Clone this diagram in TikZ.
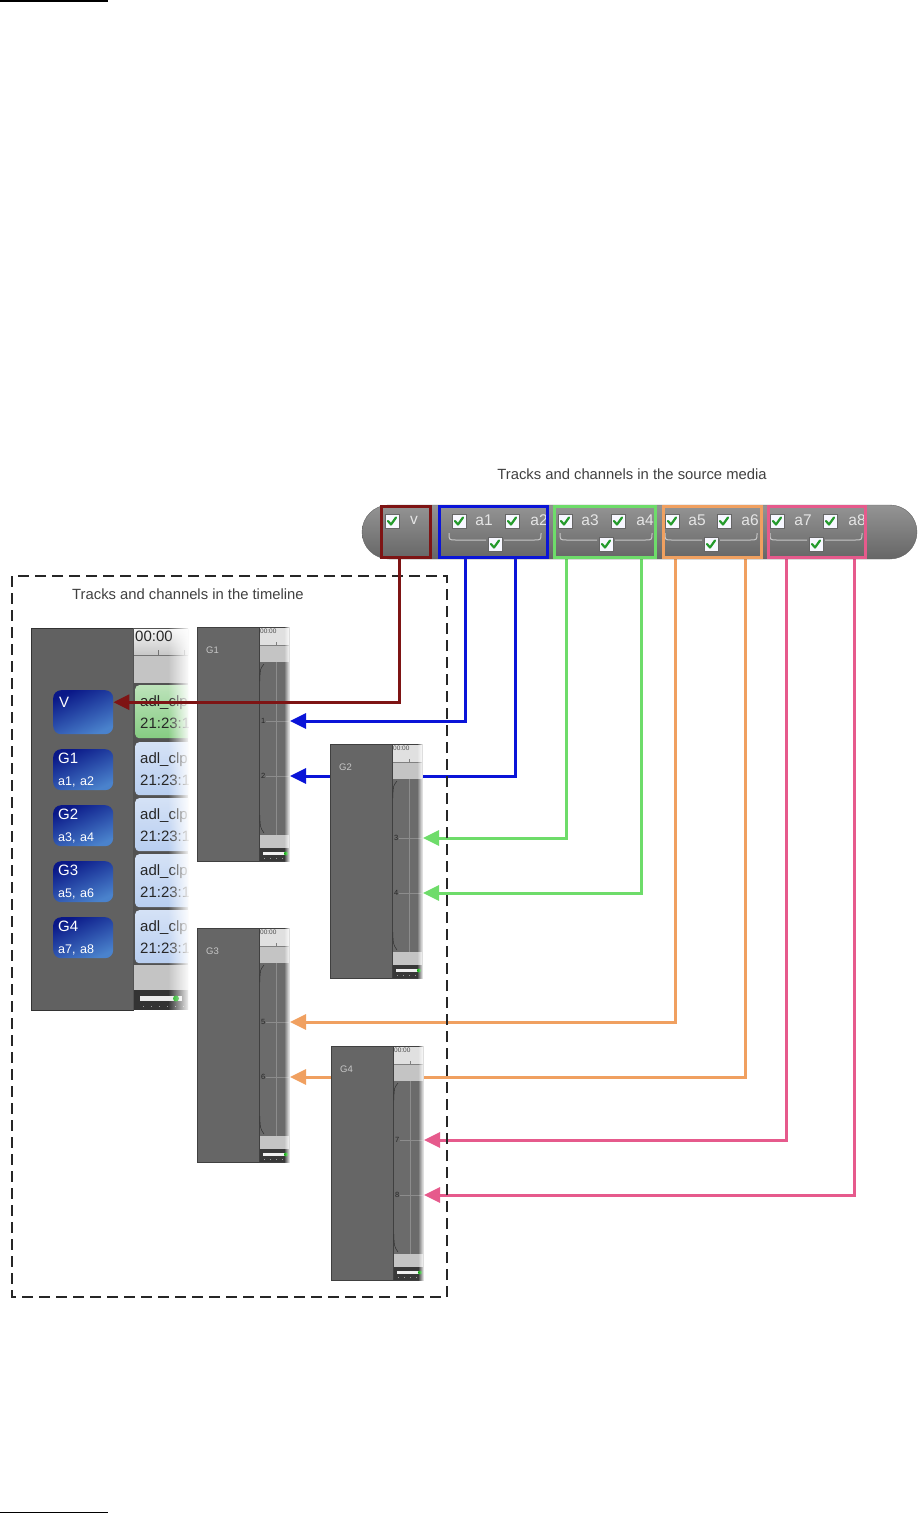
\documentclass[tikz,border=0pt]{standalone}
\usepackage{fontspec}
\setmainfont{Liberation Sans}
\usetikzlibrary{positioning, arrows.meta, calc, fadings, backgrounds}

\definecolor{vred}{HTML}{7E1414}
\definecolor{chblue}{HTML}{0A14D8}
\definecolor{chgreen}{HTML}{6EDC6A}
\definecolor{chorange}{HTML}{F0A060}
\definecolor{chpink}{HTML}{E65A8C}
\definecolor{panelgray}{HTML}{666666}
\definecolor{bargray}{HTML}{C4C4C4}
\definecolor{btndark}{HTML}{0A1888}
\definecolor{btnlight}{HTML}{4A82CC}
\definecolor{tickgreen}{HTML}{249A2C}
\definecolor{clipgreen}{HTML}{86CC82}
\definecolor{clipblue}{HTML}{B8CEF0}

\tikzset{
  chkbox/.pic={
    \draw[draw=black!60, fill=blue!3, line width=0.8pt] (-7,-7) rectangle (7,7);
    \draw[tickgreen, line width=2.2pt, line cap=round, line join=round] (-4,0) -- (-1,3.5) -- (4,-3.5);
  }
}

\begin{document}
\begin{tikzpicture}[x=1pt, y=-1pt,
  srcbox/.style={draw, line width=3pt, minimum height=51pt, inner sep=0pt, anchor=north west},
  chlabel/.style={text=black!10, font=\fontsize{15.5}{15.5}\selectfont, inner sep=0pt},
  link/.style={line width=3pt, -{Triangle[length=16pt, width=15pt]}},
  gpanel/.style={draw=black!75, fill=panelgray, line width=1pt, minimum width=92pt, minimum height=234pt, inner sep=0pt, anchor=north west},
  button/.style={rounded corners=8pt, top color=btndark, bottom color=btnlight, shading angle=25, minimum width=60pt, minimum height=41pt, text width=50pt, inner xsep=5pt, inner ysep=0pt, align=left, anchor=north west, text=white, font=\fontsize{14}{22}\selectfont},
  clipbox/.style={rounded corners=4pt, minimum width=70pt, minimum height=53pt, text width=60pt, inner xsep=5pt, inner ysep=0pt, align=left, anchor=north west, text=black!85, font=\fontsize{15}{22}\selectfont},
  glabel/.style={text=black!22, font=\fontsize{9.5}{9.5}\selectfont, inner sep=0pt, anchor=west},
  tlabel/.style={text=black!85, font=\fontsize{7.5}{7.5}\selectfont, inner sep=0pt, anchor=west},
  headline/.style={text=black!75, font=\fontsize{14.8}{14.8}\selectfont, inner sep=0pt},
]
\useasboundingbox (0,0) rectangle (918,1514);

% Page rules
\draw[line width=1.5pt] (0,1) -- (108,1);
\draw[line width=1.5pt] (0,1512.5) -- (108,1512.5);

% Source media
\node[headline] (srctitle) at (632,474) {Tracks and channels in the source media};
\draw[black!62, top color=black!42, bottom color=black!60, rounded corners=27pt] (362,505) rectangle (917,559);
\pic at (392,521) {chkbox};
\node[chlabel] (lv) at (414,520) {v};
\foreach \ca/\la/\ta/\cb/\lb/\tb/\cx in {459/484/a1/512/539/a2/495, 565/590/a3/618/645/a4/606, 672/697/a5/724/750/a6/711, 777/803/a7/830/857/a8/816}{
  \pic at (\ca,521) {chkbox};
  \pic at (\cb,521) {chkbox};
  \node[chlabel] (l\ta) at (\la,520) {\ta};
  \node[chlabel] (l\tb) at (\lb,520) {\tb};
  \draw[black!22, line width=1pt] (\cx-46,533) .. controls (\cx-46,540) .. (\cx-39,540) -- (\cx-9,540)
    (\cx+9,540) -- (\cx+39,540) .. controls (\cx+46,540) .. (\cx+46,533);
  \pic at (\cx,544) {chkbox};
}
\node[srcbox, draw=vred, minimum width=49pt] (vbox) at (380,505) {};
\node[srcbox, draw=chblue, minimum width=108pt] (a12box) at (438,505) {};
\node[srcbox, draw=chgreen, minimum width=101pt] (a34box) at (553,505) {};
\node[srcbox, draw=chorange, minimum width=98pt] (a56box) at (662,505) {};
\node[srcbox, draw=chpink, minimum width=97pt] (a78box) at (767,505) {};

% Timeline frame
\draw[black!85, line width=2pt, dash pattern=on 11pt off 6pt] (12,576) rectangle (447,1297);
\node[headline, anchor=west] (tltitle) at (72,594) {Tracks and channels in the timeline};

% Main track panel
\node[draw=black!80, fill=black!62, line width=1pt, minimum width=102pt, minimum height=382pt, inner sep=0pt, anchor=north west] (mainpanel) at (31,628) {};
\begin{scope}
  \clip (133,628) rectangle (188,1010);
  \fill[black!68] (133,628) rectangle (190,1010);
  \fill[top color=black!4, bottom color=black!22] (134,629) rectangle (190,655);
  \draw[black!55] (134,655) -- (190,655) (158,650) -- (158,655) (184,650) -- (184,655);
  \node[anchor=north west, inner sep=0pt, text=black!85, font=\fontsize{15}{15}\selectfont] (maintime) at (135,631) {00:00};
  \fill[bargray] (134,656) rectangle (190,683);
  \node[clipbox, top color=clipgreen!55!white, bottom color=clipgreen] (clipv) at (135,685) {adl\_clp\\21:23:1};
  \foreach \k/\cy in {1/742, 2/798, 3/854, 4/910}
    \node[clipbox, top color=clipblue!60!white, bottom color=clipblue] (clip\k) at (135,\cy) {adl\_clp\\21:23:1};
  \fill[bargray] (134,965) rectangle (190,990);
  \fill[black!80] (134,990) rectangle (190,1010);
  \fill[black!8] (140,996) rectangle (182,1001);
  \fill[green!65!black] (176,998.5) circle (3pt);
  \draw[black!40, dash pattern=on 1pt off 7pt] (143,1006) -- (190,1006);
\end{scope}
\fill[white, path fading=west] (168,626) rectangle (190,1012);

% Track buttons
\node[button, minimum height=44pt] (bv) at (53,690) {};
\node[anchor=north west, inner sep=0pt, text=white, font=\fontsize{15}{15}\selectfont] (bvlabel) at (59,697) {V};
\foreach \k/\by/\chs in {1/749/{a1, a2}, 2/805/{a3, a4}, 3/861/{a5, a6}, 4/917/{a7, a8}}
  \node[button] (bg\k) at (53,\by) {\fontsize{15}{22}\selectfont G\k\\\fontsize{12.5}{22}\selectfont \chs};

% Group panels
\foreach \n/\px/\py/\ta/\tb in {1/197/627/1/2, 2/330/744/3/4, 3/197/928/5/6, 4/331/1046/7/8}{
  \begin{scope}[shift={(\px,\py)}]
    \node[gpanel] (g\n) at (0,0) {};
    \draw[black!75, line width=1pt] (62,0) -- (62,234);
    \fill[black!12] (62.5,0.5) rectangle (91.5,18);
    \node[anchor=north west, inner sep=0pt, text=black!70, font=\fontsize{6.5}{6.5}\selectfont] (gt\n) at (63,2) {00:00};
    \draw[black!50] (62.5,18) -- (91.5,18) (79,15) -- (79,18);
    \fill[bargray] (62.5,18.5) rectangle (91.5,35);
    \fill[black!58] (62.5,35) rectangle (91.5,208);
    \draw[black!45] (79,35) -- (79,208);
    \draw[black!85] (67,37) .. controls (63,42) .. (63,54);
    \draw[black!85] (63,188) .. controls (63,200) .. (67,206);
    \fill[bargray] (62.5,208) rectangle (91.5,221);
    \fill[black!78] (62.5,221) rectangle (91.5,233.5);
    \fill[black!6] (66,225) rectangle (88,228);
    \fill[green!65!black] (89,226.5) circle (2pt);
    \draw[black!40, dash pattern=on 1pt off 5pt] (67,231) -- (90,231);
    \node[glabel] (gl\n) at (9,23) {G\n};
    \node[tlabel] (t\ta) at (64,94) {\ta};
    \node[tlabel] (t\tb) at (64,149) {\tb};
    \draw[black!45] (69,94) -- (91.5,94) (69,149) -- (91.5,149);
    \fill[white, path fading=west] (87,-1) rectangle (93,235);
  \end{scope}
}

% Connectors
\begin{pgfonlayer}{background}
\draw[link, chblue] ([xshift=27pt]a12box.south west) |- (g1.east |- t1);
\draw[link, chblue] ([xshift=77pt]a12box.south west) |- (g1.east |- t2);
\draw[link, chgreen] ([xshift=13pt]a34box.south west) |- (g2.east |- t3);
\draw[link, chgreen] ([xshift=88pt]a34box.south west) |- (g2.east |- t4);
\draw[link, chorange] ([xshift=13pt]a56box.south west) |- (g3.east |- t5);
\draw[link, chorange] ([xshift=83pt]a56box.south west) |- (g3.east |- t6);
\draw[link, chpink] ([xshift=19pt]a78box.south west) |- (g4.east |- t7);
\draw[link, chpink] ([xshift=87pt]a78box.south west) |- (g4.east |- t8);
\end{pgfonlayer}
\draw[link, vred] ([xshift=19pt]vbox.south west) |- ([yshift=10pt]bv.east);

\end{tikzpicture}
\end{document}
